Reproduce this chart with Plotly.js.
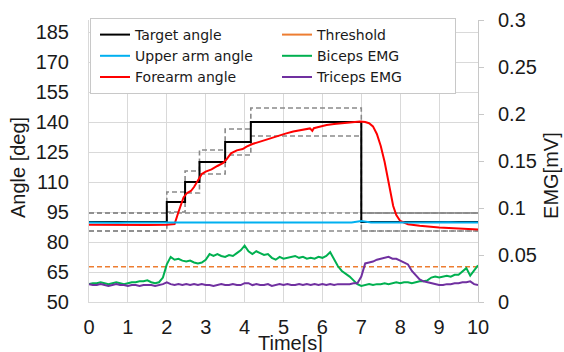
<!DOCTYPE html>
<html>
<head>
<meta charset="utf-8">
<script src="https://cdn.plot.ly/plotly-3.0.1.min.js"></script>
<style>html,body{margin:0;padding:0;background:#fff;}#chart{width:564px;height:352px;}</style>
</head>
<body>
<div id="chart"></div>
<script>
// ---- Data ----
var stepTimes   = [0, 2, 2.47, 2.84, 3.5, 4.16, 7, 10];
var targetAngle = [90, 100, 110, 120, 130, 140, 90, 90];
var bandUpper   = [94.5, 105, 115.5, 126, 136.5, 147, 94.5, 94.5];
var bandLower   = [85.5, 95, 104.5, 114, 123.5, 133, 85.5, 85.5];
var baseBandTimes = [0, 10];
var baseUpper   = [94.5, 94.5];
var baseLower   = [85.5, 85.5];
var restTimes   = [7, 10];
var restUpper   = [94.5, 94.5];

// Upper arm angle, sampled every 0.25 s from t = 0
var upperArm = [89.8,89.7,89.9,89.6,89.8,89.8,89.7,89.9,89.8,89.7,
                89.8,89.9,89.7,89.8,89.8,89.9,89.7,89.8,89.8,89.7,
                89.9,89.8,89.7,89.8,89.9,89.8,89.7,89.8,90.5,89.8,
                89.7,89.8,89.9,89.8,89.7,89.8,89.8,89.9,89.7,89.8,89.8];

// Forearm angle
var forearmT = [0, 0.5, 1, 1.5, 2, 2.2, 2.3, 2.43, 2.52, 2.62, 2.7, 2.8, 2.9, 3.0, 3.15, 3.3, 3.45, 3.54, 3.65, 3.8, 3.95, 4.05, 4.2, 4.4, 4.6, 4.83, 5.05, 5.25, 5.45, 5.68, 5.74, 5.78, 5.9, 6.11, 6.3, 6.45, 6.7, 6.97, 7.1, 7.2, 7.3, 7.4, 7.5, 7.6, 7.68, 7.75, 7.82, 7.9, 8.0, 8.2, 8.5, 9.0, 9.5, 10];
var forearm  = [88.6, 88.5, 88.7, 88.5, 88.6, 89.0, 95, 102.3, 104.5, 105.5, 107.5, 111, 114, 115.2, 116.3, 118, 119.5, 121.5, 124.3, 125.8, 126.5, 127.7, 129, 130.2, 131.5, 132.7, 134.2, 135.2, 136, 136.8, 135.6, 136.9, 137.5, 138.5, 139, 139.3, 139.8, 140.2, 140, 139.4, 137.8, 134, 128, 120, 112, 104, 98, 93.5, 90.5, 88.9, 88.1, 87.3, 86.8, 86.2];

// EMG, sampled every 0.1 s from t = 0
var threshT = [0, 10];
var threshold = [0.0375, 0.0375];
var biceps = [0.019,0.020,0.020,0.021,0.020,0.019,0.020,0.021,0.020,0.019,
              0.020,0.021,0.021,0.022,0.022,0.023,0.021,0.020,0.021,0.026,
              0.040,0.048,0.045,0.046,0.044,0.043,0.044,0.042,0.041,0.042,
              0.045,0.051,0.049,0.051,0.049,0.048,0.050,0.049,0.052,0.055,
              0.060,0.054,0.051,0.054,0.052,0.050,0.051,0.047,0.045,0.048,
              0.046,0.047,0.048,0.049,0.047,0.048,0.046,0.047,0.046,0.048,
              0.047,0.049,0.053,0.046,0.038,0.033,0.030,0.027,0.023,0.019,
              0.017,0.018,0.019,0.018,0.019,0.019,0.020,0.019,0.020,0.021,
              0.020,0.021,0.021,0.020,0.021,0.022,0.022,0.023,0.026,0.027,
              0.026,0.027,0.028,0.027,0.029,0.029,0.033,0.036,0.028,0.033,0.039];
var triceps = [0.019,0.018,0.018,0.019,0.018,0.017,0.018,0.019,0.018,0.018,
               0.017,0.018,0.018,0.017,0.018,0.018,0.018,0.017,0.018,0.019,
               0.021,0.019,0.018,0.019,0.018,0.019,0.018,0.019,0.018,0.019,
               0.018,0.018,0.017,0.018,0.019,0.018,0.018,0.019,0.018,0.018,
               0.020,0.020,0.018,0.019,0.018,0.018,0.019,0.017,0.018,0.019,
               0.018,0.019,0.018,0.018,0.019,0.018,0.019,0.018,0.019,0.018,
               0.019,0.018,0.019,0.018,0.019,0.019,0.019,0.019,0.020,0.020,
               0.027,0.041,0.042,0.043,0.045,0.046,0.047,0.048,0.046,0.046,
               0.044,0.042,0.040,0.033,0.028,0.024,0.022,0.021,0.020,0.019,
               0.018,0.018,0.019,0.019,0.020,0.020,0.021,0.021,0.022,0.019,0.018];

// ---- Labels ----
var names = ['Target angle', 'Threshold', 'Upper arm angle', 'Biceps EMG', 'Forearm angle', 'Triceps EMG'];
var angleTicks = [50, 65, 80, 95, 110, 125, 140, 155, 170, 185];
var emgTicks = [0, 0.05, 0.1, 0.15, 0.2, 0.25, 0.3];
var emgTickText = ['0', '0.05', '0.1', '0.15', '0.2', '0.25', '0.3'];
var timeTicks = [0,1,2,3,4,5,6,7,8,9,10];

var gray = '#8a8a8a';
var dashPat = '5px,3px';

var traces = [
  {x: stepTimes, y: bandUpper, mode:'lines', line:{shape:'hv', color:gray, width:1.6, dash:dashPat}, showlegend:false, hoverinfo:'skip'},
  {x: stepTimes, y: bandLower, mode:'lines', line:{shape:'hv', color:gray, width:1.6, dash:dashPat}, showlegend:false, hoverinfo:'skip'},
  {x: baseBandTimes, y: baseUpper, mode:'lines', line:{color:gray, width:1.6, dash:dashPat}, showlegend:false, hoverinfo:'skip'},
  {x: baseBandTimes, y: baseLower, mode:'lines', line:{color:gray, width:1.6, dash:dashPat}, showlegend:false, hoverinfo:'skip'},
  {x: restTimes, y: restUpper, mode:'lines', line:{color:gray, width:1.6}, showlegend:false, hoverinfo:'skip'},
  {name: names[0], x: stepTimes, y: targetAngle, mode:'lines', line:{shape:'hv', color:'#000000', width:2}, legendrank:1},
  {name: names[4], x: forearmT, y: forearm, mode:'lines', line:{color:'#ff0000', width:2}, legendrank:5},
  {name: names[2], x0:0, dx:0.25, y: upperArm, mode:'lines', line:{color:'#00b0f0', width:2}, legendrank:3},
  {name: names[1], x: threshT, y: threshold, yaxis:'y2', mode:'lines', line:{color:'#ed7d31', width:1.6, dash:dashPat}, showlegend:false},
  {name: names[1], x: [null], y: [null], yaxis:'y2', mode:'lines', line:{color:'#ed7d31', width:2}, legendrank:2},
  {name: names[3], x0:0, dx:0.1, y: biceps, yaxis:'y2', mode:'lines', line:{color:'#00b050', width:2}, legendrank:4},
  {name: names[5], x0:0, dx:0.1, y: triceps, yaxis:'y2', mode:'lines', line:{color:'#7030a0', width:2}, legendrank:6}
];

var tickFont = {family:'Liberation Sans, Arial, sans-serif', size:20, color:'#1a1a1a'};
var gridC = '#d9d9d9';

var layout = {
  width:564, height:352,
  margin:{l:89, r:86, t:20, b:50, pad:0},
  paper_bgcolor:'#ffffff', plot_bgcolor:'#ffffff',
  showlegend:true,
  legend:{orientation:'h', x:0.0026, xanchor:'left', y:1.0071, yanchor:'top',
          bgcolor:'#ffffff', bordercolor:'#c8c8c8', borderwidth:1,
          font:{family:'DejaVu Sans, sans-serif', size:14, color:'#1a1a1a'},
          entrywidth:133, itemwidth:30, indentation:4, traceorder:'normal'},
  xaxis:{range:[0,10], tickvals:timeTicks, ticktext:timeTicks.map(String), showgrid:true, gridcolor:gridC, gridwidth:1,
         zeroline:false, showline:true, linecolor:gridC, linewidth:1, ticks:'', tickfont:tickFont, ticklabelstandoff:7},
  yaxis:{range:[50,191], tickvals:angleTicks, showgrid:true, gridcolor:gridC, gridwidth:1,
         zeroline:false, showline:true, linecolor:gridC, linewidth:1, ticks:'', tickfont:tickFont, ticklabelstandoff:15},
  yaxis2:{range:[0,0.3], tickvals:emgTicks, ticktext:emgTickText, overlaying:'y', side:'right',
          showgrid:false, zeroline:false, showline:true, linecolor:'#c8c8c8', linewidth:1,
          ticks:'outside', ticklen:5, tickcolor:'#c8c8c8', tickfont:tickFont, ticklabelstandoff:10},
  annotations:[
    {text:'Angle [deg]', xref:'paper', yref:'paper', x:-0.1825, y:0.475, textangle:-90, showarrow:false,
     xanchor:'center', yanchor:'middle', font:{family:'Liberation Sans, Arial, sans-serif', size:20, color:'#1a1a1a'}},
    {text:'EMG[mV]', xref:'paper', yref:'paper', x:1.1877, y:0.447, textangle:-90, showarrow:false,
     xanchor:'center', yanchor:'middle', font:{family:'Liberation Sans, Arial, sans-serif', size:20, color:'#1a1a1a'}},
    {text:'Time[s]', xref:'paper', yref:'paper', x:0.519, y:-0.145, showarrow:false,
     xanchor:'center', yanchor:'middle', font:{family:'Liberation Sans, Arial, sans-serif', size:20, color:'#1a1a1a'}}
  ]
};

Plotly.newPlot('chart', traces, layout, {staticPlot:true, displayModeBar:false});
</script>
</body>
</html>
